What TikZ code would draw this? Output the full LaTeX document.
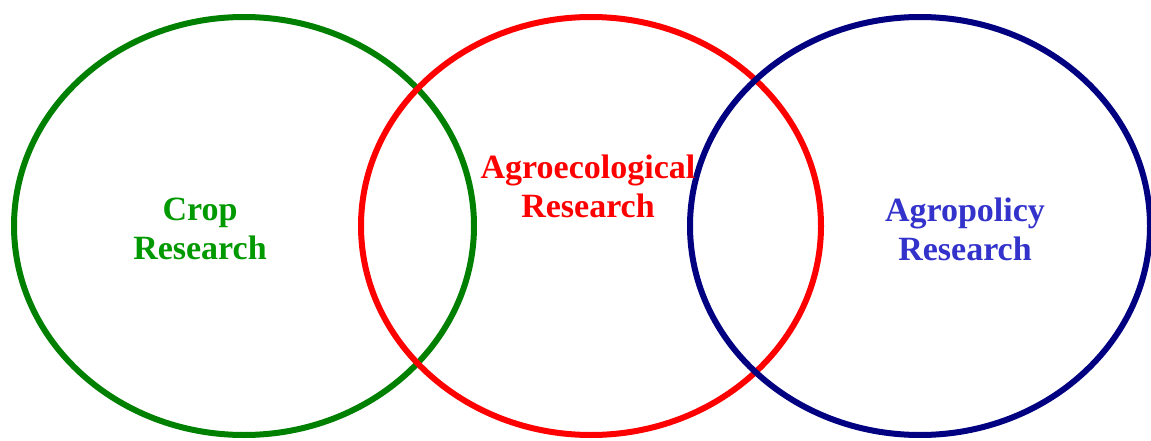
\documentclass[tikz,border=0pt]{standalone}
\usepackage{fontspec}
\setmainfont{Liberation Serif}
\usepackage{tikz}
\usetikzlibrary{shapes.geometric, positioning}
\definecolor{cropgreen}{HTML}{008000}
\definecolor{croptext}{HTML}{009900}
\definecolor{agrored}{HTML}{FF0000}
\definecolor{policynavy}{HTML}{000080}
\definecolor{policytext}{HTML}{3333CC}

\begin{document}
\begin{tikzpicture}[x=1pt, y=1pt,
  field/.style={ellipse, draw, line width=6pt, minimum width=460pt, minimum height=418pt, inner sep=0pt},
  label/.style={align=center, font=\fontsize{34}{39}\selectfont\bfseries}
]
\useasboundingbox (0,0) rectangle (1151,440);

% research fields
\node[field, draw=cropgreen] (crop) at (244,214) {};
\node[field, draw=agrored] (agroeco) at (591,214) {};
\node[field, draw=policynavy] (policy) at (920,214) {};

% labels
\node[label, text=croptext] (croplbl) at (200,211) {Crop\\Research};
\node[label, text=agrored] (agroecolbl) at (588,254) {Agroecological\\Research};
\node[label, text=policytext] (policylbl) at (965,211) {Agropolicy\\Research};

\end{tikzpicture}
\end{document}
